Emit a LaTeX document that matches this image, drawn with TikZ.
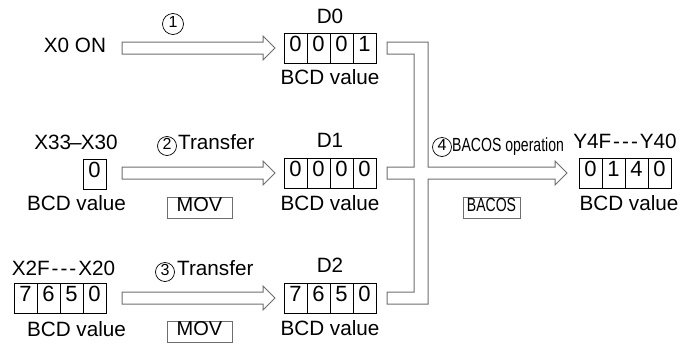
\documentclass[tikz,border=0pt]{standalone}
\usepackage{fontspec}
\setmainfont{Liberation Sans}
\usetikzlibrary{calc}
\definecolor{linegray}{HTML}{6E6E6E}
\newcommand\dashes{\kern2pt-\kern2pt-\kern2pt-\kern2pt}
\newcommand\squeeze[1]{\scalebox{0.74}[1]{#1}}
% block arrow between two named coordinates
\newcommand\blockarrow[2]{%
  \draw[barrow] ($(#1)+(0,-6)$) -- ($(#2)+(-12,-6)$) -- ($(#2)+(-12,-12)$) -- (#2)
    -- ($(#2)+(-12,12)$) -- ($(#2)+(-12,6)$) -- ($(#1)+(0,6)$) -- cycle;}
\begin{document}
\begin{tikzpicture}[x=1pt,y=-1pt,
    lbl/.style={inner sep=0pt,text height=.716em,text depth=0pt,font=\fontsize{20.7}{24}\selectfont},
    cell/.style={lbl,draw,line width=1pt,minimum width=23pt,minimum height=30pt,font=\fontsize{22}{24}\selectfont},
    num/.style={circle,draw,line width=.7pt,inner sep=0pt,minimum size=19pt,text height=.716em,text depth=0pt,font=\fontsize{16}{16}\selectfont},
    cmd/.style={lbl,draw=linegray,line width=.8pt,minimum height=21pt,font=\fontsize{20}{22}\selectfont},
    barrow/.style={draw=linegray,fill=white,line width=1pt,line join=miter}]
    \useasboundingbox (0,0) rectangle (685,343);
    % row 1
    \node[lbl] (x0on) at (75,49) {X0 ON};
    \coordinate (a1s) at (122,48);
    \coordinate (a1t) at (275,48);
    \blockarrow{a1s}{a1t}
    \node[num,minimum size=21pt] (n1) at (173,24) {1};
    \node[lbl] (d0) at (330,20) {D0};
    \foreach \v [count=\i] in {0,0,0,1}
      \node[cell] (d0c\i) at ({284+11.5+23*(\i-1)},48) {\v};
    \node[lbl] (d0v) at (330,81) {BCD value};
    % row 2
    \node[lbl] (x33) at (76,146) {X33\kern-1pt\textendash\kern-1pt X30};
    \node[cell] (x33c) at (94.5,174) {0};
    \node[lbl] (x33v) at (76.5,207) {BCD value};
    \node[num] (n2) at (167,146) {2};
    \node[lbl,anchor=west] (t2) at (178,146) {Transfer};
    \coordinate (a2s) at (122,173);
    \coordinate (a2t) at (275,173);
    \blockarrow{a2s}{a2t}
    \node[cmd,minimum width=65pt] (mov2) at (199.5,208) {MOV};
    \node[lbl] (d1) at (330,144) {D1};
    \foreach \v [count=\i] in {0,0,0,0}
      \node[cell] (d1c\i) at ({284+11.5+23*(\i-1)},173) {\v};
    \node[lbl] (d1v) at (330,207) {BCD value};
    % row 3
    \node[lbl] (x2f) at (63.5,272) {X2F\dashes X20};
    \foreach \v [count=\i] in {7,6,5,0}
      \node[cell] (x2fc\i) at ({14+11.5+23*(\i-1)},298) {\v};
    \node[lbl] (x2fv) at (76.5,333) {BCD value};
    \node[num] (n3) at (165,272) {3};
    \node[lbl,anchor=west] (t3) at (177,272) {Transfer};
    \coordinate (a3s) at (122,298);
    \coordinate (a3t) at (275,298);
    \blockarrow{a3s}{a3t}
    \node[cmd,minimum width=65pt] (mov3) at (199.5,331.5) {MOV};
    \node[lbl] (d2) at (330,269) {D2};
    \foreach \v [count=\i] in {7,6,5,0}
      \node[cell] (d2c\i) at ({284+11.5+23*(\i-1)},298) {\v};
    \node[lbl] (d2v) at (330,332) {BCD value};
    % merge into BACOS
    \draw[barrow] (387,42) -- (428,42) -- (428,167) -- (555,167) -- (555,161) -- (567,173)
      -- (555,185) -- (555,179) -- (428,179) -- (428,304) -- (387,304) -- (387,292)
      -- (414,292) -- (414,179) -- (387,179) -- (387,167) -- (414,167) -- (414,54)
      -- (387,54) -- cycle;
    \node[num] (n4) at (442,147) {4};
    \node[lbl,anchor=west,font=\fontsize{19}{21}\selectfont] (t4) at (452,148) {\squeeze{BACOS operation}};
    \node[cmd,minimum width=57pt,font=\fontsize{19}{21}\selectfont] (bacos) at (491.5,207.5) {\squeeze{BACOS}};
    \node[lbl] (y4f) at (625,145) {Y4F\dashes Y40};
    \foreach \v [count=\i] in {0,1,4,0}
      \node[cell] (y4fc\i) at ({579+11.5+23*(\i-1)},173) {\v};
    \node[lbl] (y4fv) at (629,207) {BCD value};
\end{tikzpicture}
\end{document}
